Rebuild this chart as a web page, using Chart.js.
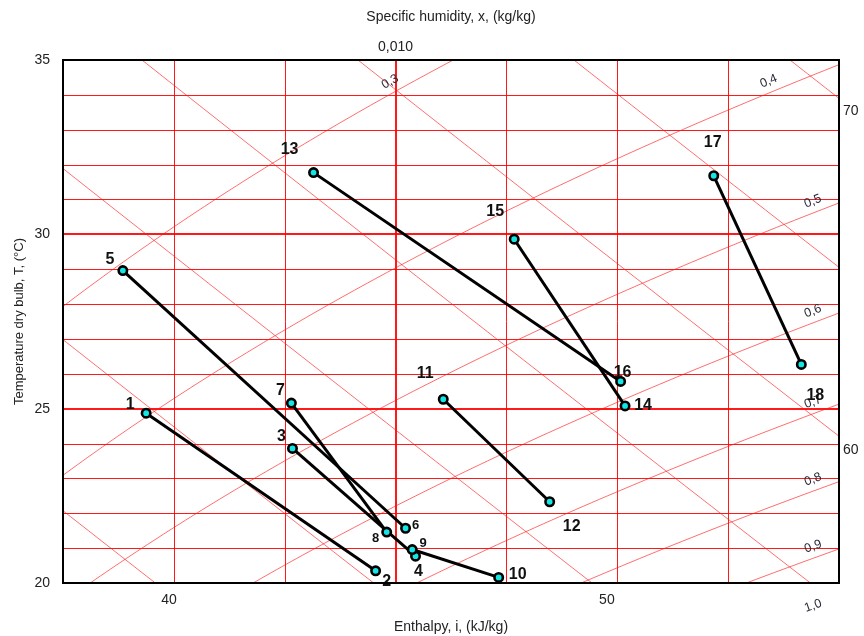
<!DOCTYPE html>
<html>
<head>
<meta charset="utf-8">
<title>Air states on the i-x chart</title>
<script src="https://cdn.jsdelivr.net/npm/chart.js@4/dist/chart.umd.min.js"></script>
<style>
  html, body { margin: 0; padding: 0; background: #fff; }
  canvas { display: block; }
</style>
</head>
<body>
<canvas id="chart" width="864" height="636"></canvas>
<script>
// ---- Air states: specific humidity (kg/kg) and dry-bulb temperature (°C) ----
const stateIds = ['1', '2', '3', '4', '5', '6', '7', '8', '9', '10', '11', '12', '13', '14', '15', '16', '17', '18'];
const humidity = [0.00775, 0.00982, 0.00907, 0.01018, 0.00754, 0.01009, 0.00906, 0.00992, 0.01015,
                  0.01093, 0.01043, 0.01139, 0.00926, 0.01207, 0.01107, 0.01203, 0.01287, 0.01366];
const temperature = [24.87, 20.35, 23.86, 20.77, 28.96, 21.57, 25.16, 21.46, 20.96,
                     20.16, 25.27, 22.33, 31.77, 25.08, 29.86, 25.78, 31.68, 26.27];

// Air treatment processes as [start state, end state]
const processes = [[1, 2], [3, 4], [5, 6], [7, 8], [9, 10], [11, 12], [13, 16], [15, 14], [17, 18]];

// ---- Chart grid ----
const humidityTicks = [0.007, 0.008, 0.009, 0.010, 0.011, 0.012, 0.013, 0.014];
const humidityMajor = [0.010];
const temperatureTicks = [20, 21, 22, 23, 24, 25, 26, 27, 28, 29, 30, 31, 32, 33, 34, 35];
const temperatureMajor = [25, 30];
const temperatureLabels = [20, 25, 30, 35];
const enthalpyLines = [40, 45, 50, 55, 60, 65, 70];           // kJ/kg
const enthalpyBottomTicks = [40, 50];
const enthalpyRightTicks = [60, 70];
const rhLines = [0.3, 0.4, 0.5, 0.6, 0.7, 0.8, 0.9, 1.0];
const rhLabels = ['0,3', '0,4', '0,5', '0,6', '0,7', '0,8', '0,9', '1,0'];

// ---- Moist air relations ----
const PRESSURE = 101.325; // kPa
function satPressure(T) { return 0.61094 * Math.exp(17.625 * T / (T + 243.04)); }
function humidityAtRH(phi, T) { const pv = phi * satPressure(T); return 0.622 * pv / (PRESSURE - pv); }
function tempAtRH(phi, x) {
  const ps = x * PRESSURE / (phi * (0.622 + x));
  const g = Math.log(ps / 0.61094);
  return 243.04 * g / (17.625 - g);
}
function humidityOnEnthalpy(i, T) { return (i - 1.006 * T) / (2501 + 1.86 * T); }

// ---- Styling ----
const FONT = '"Liberation Sans", Arial, Helvetica, sans-serif';
const TEXT_COLOR = '#222';
const GRID_RED = 'rgba(255,0,0,0.9)';
const CURVE_RED = 'rgba(255,20,20,0.62)';
const RH_LABEL_TEMP = 34.1;        // RH labels sit near the top where the curve leaves the field
const RH_LABEL_HUMIDITY = 0.0138;  // ... or near the right edge
const LABEL_OFFSETS = [[-16, -9], [11, 11], [-11, -12], [3, 15], [-13, -11], [10, -3], [-11, -12], [-11, 6], [11, -6],
                       [19, -3], [-18, -26], [22, 25], [-24, -23], [18, 0], [-19, -28], [2, -9], [-1, -33], [14, 31]];
const SMALL_LABELS = ['6', '8', '9'];

Chart.defaults.font.family = FONT;
Chart.defaults.color = TEXT_COLOR;

const isNear = (a, b) => Math.abs(a - b) < 1e-9;

// Temperature / humidity grid, enthalpy and relative humidity lines, drawn behind the processes
const psychroGrid = {
  id: 'psychroGrid',
  beforeDatasetsDraw(chart) {
    const { ctx, chartArea: a, scales: { x, y } } = chart;
    ctx.save();
    ctx.beginPath();
    ctx.rect(a.left, a.top, a.right - a.left, a.bottom - a.top);
    ctx.clip();

    // straight grid
    ctx.strokeStyle = GRID_RED;
    temperatureTicks.forEach(T => {
      const major = temperatureMajor.includes(T);
      ctx.lineWidth = major ? 2 : 1;
      const py = Math.round(y.getPixelForValue(T)) + (major ? 0 : 0.5);
      ctx.beginPath(); ctx.moveTo(a.left, py); ctx.lineTo(a.right, py); ctx.stroke();
    });
    humidityTicks.forEach(h => {
      const major = humidityMajor.some(m => isNear(m, h));
      ctx.lineWidth = major ? 2 : 1;
      const px = Math.round(x.getPixelForValue(h)) + (major ? 0 : 0.5);
      ctx.beginPath(); ctx.moveTo(px, a.top); ctx.lineTo(px, a.bottom); ctx.stroke();
    });

    // curved lines
    ctx.strokeStyle = CURVE_RED;
    ctx.lineWidth = 1;
    const drawCurve = fn => {
      ctx.beginPath();
      for (let k = 0; k <= 220; k++) {
        const T = 16 + k * 0.1;
        const px = x.getPixelForValue(fn(T));
        const py = y.getPixelForValue(T);
        if (k === 0) ctx.moveTo(px, py); else ctx.lineTo(px, py);
      }
      ctx.stroke();
    };
    enthalpyLines.forEach(i => drawCurve(T => humidityOnEnthalpy(i, T)));
    rhLines.forEach(phi => drawCurve(T => humidityAtRH(phi, T)));
    ctx.restore();

    // RH labels along their curves
    ctx.save();
    ctx.font = '12.5px ' + FONT;
    ctx.fillStyle = '#2a2a3a';
    ctx.textAlign = 'center';
    ctx.textBaseline = 'middle';
    rhLines.forEach((phi, k) => {
      const xv = Math.min(humidityAtRH(phi, RH_LABEL_TEMP), RH_LABEL_HUMIDITY);
      const d = 0.0001;
      const p1x = x.getPixelForValue(xv - d), p1y = y.getPixelForValue(tempAtRH(phi, xv - d));
      const p2x = x.getPixelForValue(xv + d), p2y = y.getPixelForValue(tempAtRH(phi, xv + d));
      const ang = Math.atan2(p2y - p1y, p2x - p1x);
      const cx = x.getPixelForValue(xv) + Math.sin(ang) * 11;
      const cy = y.getPixelForValue(tempAtRH(phi, xv)) - Math.cos(ang) * 11;
      ctx.save();
      ctx.translate(cx, cy);
      ctx.rotate(ang);
      ctx.fillText(rhLabels[k], 0, 0);
      ctx.restore();
    });
    ctx.restore();
  },
  afterDatasetsDraw(chart) {
    const { ctx } = chart;
    const meta = chart.getDatasetMeta(0);
    ctx.save();
    ctx.fillStyle = '#111';
    ctx.textAlign = 'center';
    ctx.textBaseline = 'middle';
    meta.data.forEach((pt, k) => {
      const small = SMALL_LABELS.includes(stateIds[k]);
      ctx.font = 'bold ' + (small ? 13 : 16) + 'px ' + FONT;
      ctx.fillText(stateIds[k], pt.x + LABEL_OFFSETS[k][0], pt.y + LABEL_OFFSETS[k][1]);
    });
    ctx.restore();
  },
  afterDraw(chart) {
    const { ctx, chartArea: a } = chart;
    ctx.save();
    ctx.strokeStyle = '#000';
    ctx.lineWidth = 2;
    ctx.strokeRect(a.left, a.top, a.right - a.left, a.bottom - a.top);
    ctx.restore();
  }
};

const stateDataset = {
  type: 'scatter',
  label: 'States',
  data: humidity.map((h, k) => ({ x: h, y: temperature[k] })),
  pointRadius: 4.2,
  pointBorderWidth: 2.6,
  pointBackgroundColor: '#14E6E6',
  pointBorderColor: '#000',
  order: 0
};

const processDatasets = processes.map(([a, b]) => ({
  type: 'line',
  label: a + '-' + b,
  data: [{ x: humidity[a - 1], y: temperature[a - 1] }, { x: humidity[b - 1], y: temperature[b - 1] }],
  borderColor: '#000',
  borderWidth: 3,
  pointRadius: 0,
  fill: false,
  order: 1
}));

new Chart(document.getElementById('chart'), {
  type: 'scatter',
  data: { datasets: [stateDataset, ...processDatasets] },
  options: {
    responsive: false,
    animation: false,
    devicePixelRatio: 1,
    layout: { padding: 0 },
    plugins: { legend: { display: false }, tooltip: { enabled: false } },
    scales: {
      x: {
        type: 'linear', position: 'top', min: 0.007, max: 0.014,
        afterBuildTicks: s => { s.ticks = humidityMajor.map(v => ({ value: v })); },
        afterFit: s => { s.height = 60; },
        ticks: {
          autoSkip: false, maxRotation: 0, padding: 4, font: { size: 14 },
          callback: v => String(v.toFixed(3)).replace('.', ',')
        },
        grid: { display: false, drawTicks: false },
        border: { display: false },
        title: { display: true, text: 'Specific humidity, x, (kg/kg)', font: { size: 14 }, padding: { top: 9, bottom: 0 } }
      },
      y: {
        type: 'linear', position: 'left', min: 20, max: 35,
        afterBuildTicks: s => { s.ticks = temperatureLabels.map(v => ({ value: v })); },
        afterFit: s => { s.width = 63; },
        ticks: { autoSkip: false, padding: 13, font: { size: 14 } },
        grid: { display: false, drawTicks: false },
        border: { display: false },
        title: { display: true, text: 'Temperature dry bulb, T, (°C)', font: { size: 13 }, padding: { top: 12, bottom: 0 } }
      },
      x2: {
        type: 'linear', position: 'bottom', min: 37.58, max: 55.30,
        afterBuildTicks: s => { s.ticks = enthalpyBottomTicks.map(v => ({ value: v })); },
        afterFit: s => { s.height = 53; },
        ticks: { autoSkip: false, maxRotation: 0, padding: 9, font: { size: 14 } },
        grid: { display: false, drawTicks: false },
        border: { display: false },
        title: { display: true, text: 'Enthalpy, i, (kJ/kg)', font: { size: 14 }, padding: { top: 0, bottom: 0 } }
      },
      y2: {
        type: 'linear', position: 'right', min: 56.08, max: 71.50,
        afterBuildTicks: s => { s.ticks = enthalpyRightTicks.map(v => ({ value: v })); },
        afterFit: s => { s.width = 25; },
        ticks: { autoSkip: false, padding: 4, font: { size: 14 } },
        grid: { display: false, drawTicks: false },
        border: { display: false }
      }
    }
  },
  plugins: [psychroGrid]
});
</script>
</body>
</html>
